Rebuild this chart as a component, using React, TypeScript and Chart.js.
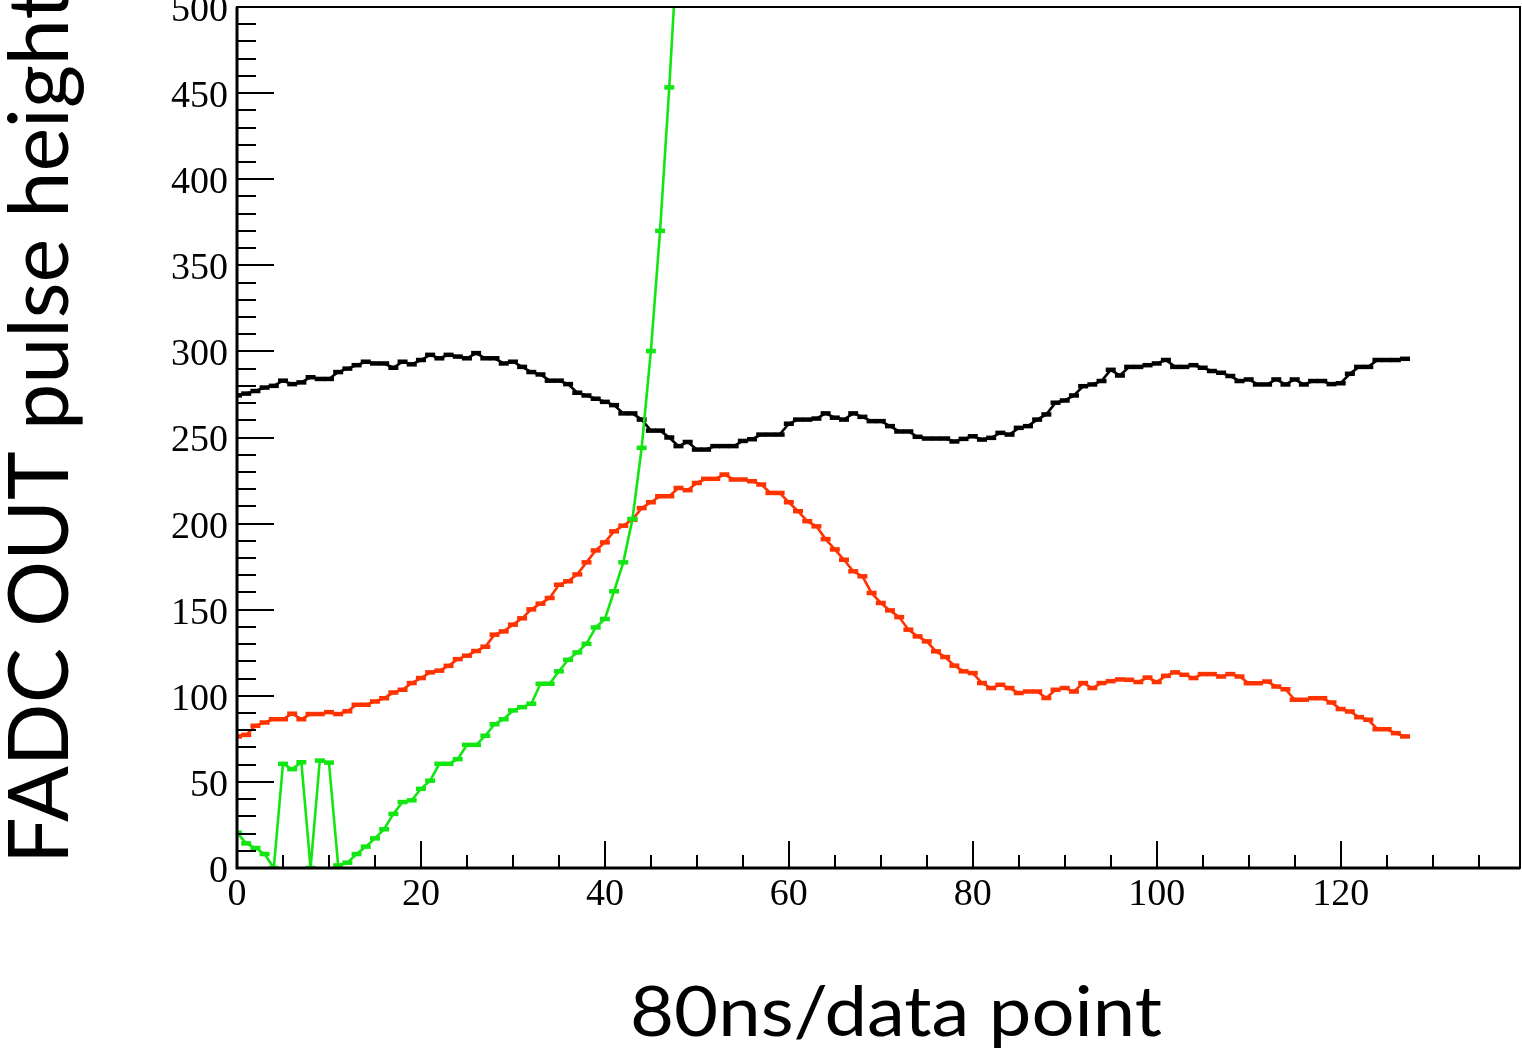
import { useEffect, useRef } from "react";
import { Chart, registerables } from "chart.js";

Chart.register(...registerables);

// ---- Data (sample index = position in array, 80 ns per sample) ----
const BLACK_VALUES = [
  274.5, 275.5, 277, 279, 280, 283, 281, 282, 285, 284,
  284, 288, 290, 292, 294, 293, 293, 290.5, 294, 292.5,
  295, 298, 296, 298, 297, 296, 299, 296, 296, 293,
  294, 291, 288, 286.6, 283, 283, 281, 276, 274.4, 272.5,
  270.7, 268.8, 264, 264, 260.4, 254, 254, 250, 245, 247.4,
  243, 243, 245, 245, 245, 248, 249, 251.7, 251.7, 251.7,
  258, 260.4, 260.4, 261, 264, 261.5, 260.4, 264, 262, 259.5,
  259.5, 256.6, 253.5, 253.5, 250.4, 249.4, 249.4, 249.4, 247.7, 249.2,
  250.7, 248.8, 249.8, 252.7, 251.7, 255.6, 256.6, 260.4, 263.4, 270.2,
  271.5, 274.4, 279.8, 280.8, 282.8, 289.3, 286, 291, 291, 292,
  293, 295, 291, 291, 292, 290.5, 288.6, 287.6, 285.7, 282.8,
  283.7, 280.8, 280.8, 283.7, 280.8, 283.7, 280.8, 282.8, 282.8, 281,
  281.5, 287, 291, 291, 295, 295, 295, 295.7,
];

const RED_VALUES = [
  76.4, 77.3, 82.6, 84.5, 86.4, 86.4, 89.6, 86.4, 89.4, 89.4,
  90.5, 89.4, 91, 94.8, 94.8, 96.7, 98.6, 101.9, 103.5, 107.4,
  110.3, 113.6, 114.6, 117.4, 121.3, 123.3, 126, 128.5, 135.5, 137.4,
  141.3, 145, 150.2, 153.5, 156.8, 164.5, 166.5, 170.5, 177.5, 184.4,
  189.1, 195.5, 198.8, 202.3, 209, 212.4, 215.9, 215.9, 220.7, 219.4,
  223.6, 226, 226, 228.5, 225.6, 225.6, 224.6, 222.7, 217.8, 217.8,
  212.4, 207.2, 201.4, 198.4, 191, 185, 179, 172.3, 169.4, 159.7,
  153.9, 149.6, 145.7, 138.4, 134.5, 131.6, 125.8, 122.5, 117.5, 114.2,
  113.2, 107.4, 104.5, 106.4, 104.5, 101.6, 102.5, 102.5, 98.7, 103.5,
  104.5, 102.5, 107.4, 104.5, 107.4, 108.5, 109.5, 109.3, 108, 110.6,
  108, 111.6, 113.6, 112.2, 110.3, 112.6, 112.6, 111.2, 112.6, 111.2,
  107.3, 107.3, 108.3, 105.4, 103.8, 97.7, 97.7, 98.6, 98.6, 96.1,
  92.3, 90.9, 87.6, 86.1, 80.6, 80.6, 78.3, 76.4,
];

const GREEN_VALUES = [
  20.5, 14.3, 11.6, 8.1, 0, 60.5, 57.4, 61.4, 0, 62.4,
  61.2, 1.5, 3.1, 8.1, 12.4, 17.2, 22.5, 31.4, 38.3, 39.3,
  46, 50.7, 60.5, 60.5, 63.2, 71.5, 71.5, 76.8, 83.5, 86.4,
  91.5, 93.4, 95.4, 107, 107, 114.2, 120.9, 125.2, 130.2, 139.7,
  144.6, 160.7, 177.5, 202.7, 244, 300.2, 370, 453.3, 547,
];

const X_TICKS = [0, 20, 40, 60, 80, 100, 120];
const Y_TICKS = [0, 50, 100, 150, 200, 250, 300, 350, 400, 450, 500];
const X_RANGE = [0, 139.5];
const Y_RANGE = [0, 500];
const X_MINOR_STEP = 5;
const Y_MINOR_STEP = 10;

const X_TITLE = "80ns/data point";
const Y_TITLE = "FADC OUT pulse height";

// plot frame in canvas pixels
const FRAME = { left: 237, top: 7, right: 1520, bottom: 868 };
const CANVAS_W = 1522;
const CANVAS_H = 1058;

const toPoints = (vals: number[]) => vals.map((v, i) => ({ x: i, y: v }));

const fixedAreaPlugin = {
  id: "fixedArea",
  afterLayout(chart: any) {
    const a = chart.chartArea;
    a.left = FRAME.left;
    a.top = FRAME.top;
    a.right = FRAME.right;
    a.bottom = FRAME.bottom;
    a.width = FRAME.right - FRAME.left;
    a.height = FRAME.bottom - FRAME.top;
    const xs = chart.scales.x;
    xs.left = FRAME.left;
    xs.right = FRAME.right;
    xs.width = FRAME.right - FRAME.left;
    xs.top = FRAME.bottom;
    xs.bottom = CANVAS_H;
    xs.height = CANVAS_H - FRAME.bottom;
    xs.configure();
    const ys = chart.scales.y;
    ys.left = 0;
    ys.right = FRAME.left;
    ys.width = FRAME.left;
    ys.top = FRAME.top;
    ys.bottom = FRAME.bottom;
    ys.height = FRAME.bottom - FRAME.top;
    ys.configure();
  },
};

const rootFramePlugin = {
  id: "rootFrame",
  afterDraw(chart: any) {
    const { ctx, chartArea } = chart;
    const xs = chart.scales.x;
    const ys = chart.scales.y;
    const { left, right, top, bottom } = chartArea;
    ctx.save();
    ctx.strokeStyle = "#000";
    // frame
    ctx.lineWidth = 2;
    ctx.strokeRect(left, top, right - left, bottom - top);
    // axes
    ctx.lineWidth = 3;
    ctx.beginPath();
    ctx.moveTo(left, top);
    ctx.lineTo(left, bottom);
    ctx.lineTo(right, bottom);
    ctx.stroke();
    // ticks (inside)
    ctx.lineWidth = 2;
    ctx.beginPath();
    for (let v = X_RANGE[0]; v <= X_RANGE[1]; v += X_MINOR_STEP) {
      const px = Math.round(xs.getPixelForValue(v));
      const major = X_TICKS.includes(v);
      const len = major ? 27 : 13;
      ctx.moveTo(px, bottom);
      ctx.lineTo(px, bottom - len);
    }
    for (let v = Y_RANGE[0]; v <= Y_RANGE[1]; v += Y_MINOR_STEP) {
      const py = Math.round(ys.getPixelForValue(v));
      const major = Y_TICKS.includes(v);
      const len = major ? 37 : 19;
      ctx.moveTo(left, py);
      ctx.lineTo(left + len, py);
    }
    ctx.stroke();

    // axis titles
    ctx.fillStyle = "#000";
    ctx.textBaseline = "alphabetic";
    ctx.textAlign = "left";
    ctx.font = "84px Lato";
    const wy = ctx.measureText(Y_TITLE).width;
    ctx.save();
    ctx.translate(68, 864);
    ctx.rotate(-Math.PI / 2);
    ctx.scale(874 / wy, 1);
    ctx.fillText(Y_TITLE, 0, 0);
    ctx.restore();

    ctx.font = "70px Lato";
    const wx = ctx.measureText(X_TITLE).width;
    ctx.save();
    ctx.translate(630, 1036);
    ctx.scale(532 / wx, 1);
    ctx.fillText(X_TITLE, 0, 0);
    ctx.restore();
    ctx.restore();
  },
};

const series = (data: number[], color: string, order: number) => ({
  data: toPoints(data),
  borderColor: color,
  backgroundColor: color,
  borderWidth: 2.6,
  pointStyle: "line",
  pointRadius: 5,
  pointBorderWidth: 4.5,
  pointBorderColor: color,
  pointBackgroundColor: color,
  tension: 0,
  fill: false,
  order,
});

export default function App() {
  const ref = useRef<HTMLCanvasElement | null>(null);
  useEffect(() => {
    if (!ref.current) return;
    const tickFont = { family: "'Liberation Serif', serif", size: 38 };
    const chart = new Chart(ref.current, {
      type: "line",
      data: {
        datasets: [
          series(GREEN_VALUES, "#12e612", 0),
          series(RED_VALUES, "#ff3300", 1),
          series(BLACK_VALUES, "#000000", 2),
        ] as any,
      },
      options: {
        animation: false,
        responsive: false,
        devicePixelRatio: 1,
        events: [],
        layout: { padding: 0 },
        plugins: { legend: { display: false }, tooltip: { enabled: false } },
        scales: {
          x: {
            type: "linear",
            min: X_RANGE[0],
            max: X_RANGE[1],
            grid: { display: false, drawTicks: false },
            border: { display: false },
            ticks: {
              font: tickFont,
              color: "#000",
              padding: 4,
              maxRotation: 0,
              autoSkip: false,
            },
            afterBuildTicks: (s: any) => {
              s.ticks = X_TICKS.map((v) => ({ value: v }));
            },
          },
          y: {
            type: "linear",
            min: Y_RANGE[0],
            max: Y_RANGE[1],
            grid: { display: false, drawTicks: false },
            border: { display: false },
            ticks: {
              font: tickFont,
              color: "#000",
              padding: 9,
              labelOffset: 4,
              autoSkip: false,
            },
            afterBuildTicks: (s: any) => {
              s.ticks = Y_TICKS.map((v) => ({ value: v }));
            },
          },
        },
      } as any,
      plugins: [fixedAreaPlugin, rootFramePlugin],
    });
    return () => chart.destroy();
  }, []);

  return (
    <div
      style={{
        position: "fixed",
        left: 0,
        top: 0,
        width: CANVAS_W,
        height: CANVAS_H,
        background: "#fff",
      }}
    >
      <canvas ref={ref} width={CANVAS_W} height={CANVAS_H} />
    </div>
  );
}
